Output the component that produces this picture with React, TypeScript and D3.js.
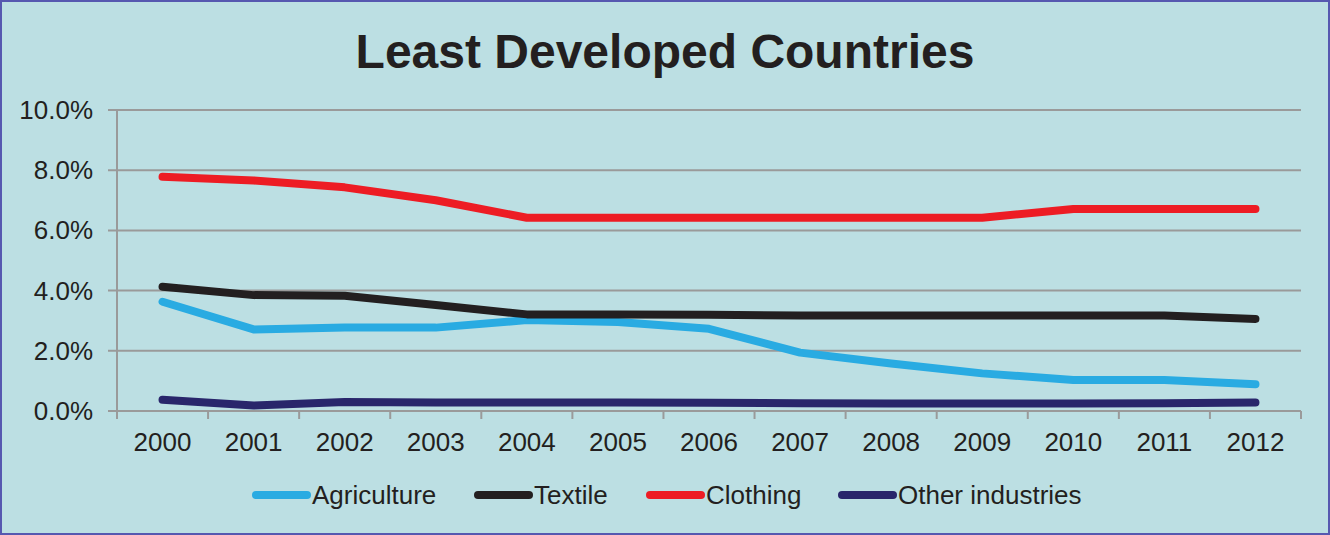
import React from "react";
import * as d3 from "d3";

const years = ["2000","2001","2002","2003","2004","2005","2006","2007","2008","2009","2010","2011","2012"];
const agriculture = [3.63, 2.71, 2.77, 2.77, 3.02, 2.96, 2.73, 1.94, 1.58, 1.25, 1.03, 1.03, 0.89];
const textile = [4.13, 3.85, 3.83, 3.52, 3.21, 3.21, 3.2, 3.17, 3.17, 3.17, 3.17, 3.17, 3.06];
const clothing = [7.78, 7.66, 7.43, 7.0, 6.42, 6.42, 6.42, 6.42, 6.42, 6.42, 6.71, 6.71, 6.71];
const other = [0.37, 0.18, 0.3, 0.28, 0.28, 0.28, 0.27, 0.26, 0.25, 0.25, 0.25, 0.26, 0.28];
const yTicks = [0, 2, 4, 6, 8, 10];
const seriesNames = ["Agriculture", "Textile", "Clothing", "Other industries"];
const seriesColors = ["#29abe2", "#231f20", "#ed1c24", "#29266b"];
const seriesData = [agriculture, textile, clothing, other];

const W = 1330, H = 535;
const left = 117, right = 1301, top = 110, bottom = 411;
const font = "'Liberation Sans', Arial, sans-serif";

export default function App() {
  const x = d3.scaleBand<string>().domain(years).range([left, right]);
  const y = d3.scaleLinear().domain([0, 10]).range([bottom, top]);
  const line = d3.line<number>()
    .x((_, i) => (x(years[i]) as number) + x.bandwidth() / 2)
    .y((d) => y(d));
  const legendX = [252, 474, 646, 838];
  return (
    <svg width={W} height={H} style={{ position: "absolute", left: 0, top: 0 }}>
      <rect x={1} y={1} width={W - 2} height={H - 2} fill="#bcdfe3" stroke="#5658b0" strokeWidth={2} />
      <text x={665} y={68} textAnchor="middle" fontFamily={font} fontWeight="bold" fontSize={48} fill="#231f20">
        Least Developed Countries
      </text>
      {yTicks.map((t) => (
        <g key={t}>
          <line x1={108} x2={right} y1={y(t)} y2={y(t)} stroke="#9a9a9a" strokeWidth={2} />
          <text x={93} y={y(t) + 9} textAnchor="end" fontFamily={font} fontSize={26} fill="#231f20">
            {t.toFixed(1)}%
          </text>
        </g>
      ))}
      <line x1={left} x2={left} y1={top} y2={bottom + 8} stroke="#9a9a9a" strokeWidth={2} />
      {years.map((yr) => (
        <line key={"t" + yr} x1={(x(yr) as number) + x.bandwidth()} x2={(x(yr) as number) + x.bandwidth()} y1={bottom} y2={bottom + 8} stroke="#9a9a9a" strokeWidth={2} />
      ))}
      {years.map((yr) => (
        <text key={yr} x={(x(yr) as number) + x.bandwidth() / 2} y={451} textAnchor="middle" fontFamily={font} fontSize={26} fill="#231f20">
          {yr}
        </text>
      ))}
      {seriesData.map((d, i) => (
        <path key={i} d={line(d) || ""} fill="none" stroke={seriesColors[i]} strokeWidth={8} strokeLinecap="round" strokeLinejoin="round" />
      ))}
      {seriesNames.map((n, i) => (
        <g key={n}>
          <line x1={legendX[i] + 4} x2={legendX[i] + 55} y1={495} y2={495} stroke={seriesColors[i]} strokeWidth={8} strokeLinecap="round" />
          <text x={legendX[i] + 60} y={504} fontFamily={font} fontSize={26} fill="#231f20">{n}</text>
        </g>
      ))}
    </svg>
  );
}
